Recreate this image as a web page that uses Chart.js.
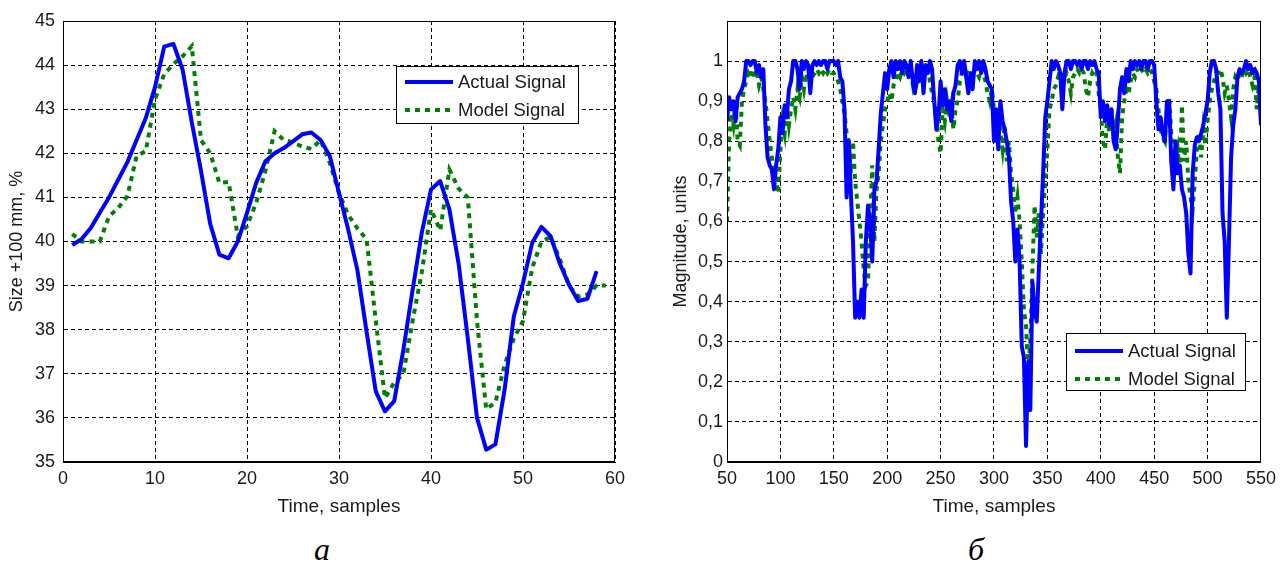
<!DOCTYPE html>
<html><head><meta charset="utf-8">
<script src="https://cdn.jsdelivr.net/npm/chart.js@4.4.0/dist/chart.umd.min.js"></script>
<style>
html,body{margin:0;padding:0;background:#fff;width:1282px;height:583px;overflow:hidden;}
.wrap{position:absolute;top:0;}
.cap{position:absolute;font-family:'Liberation Serif','Times New Roman',serif;font-style:italic;font-size:32px;line-height:1;color:#000;transform:translateX(-50%);}
</style></head><body>
<div class="wrap" style="left:0"><canvas id="c1" width="640" height="530"></canvas></div>
<div class="wrap" style="left:640px"><canvas id="c2" width="642" height="530"></canvas></div>
<div class="cap" style="left:322px;top:533px">а</div>
<div class="cap" style="left:976px;top:533px">б</div>
<script>
// ---------- Chart (а): Size +100 mm, % ----------
const timeA = [1,2,3,4,5,6,7,8,9,10,11,12,13,14,15,16,17,18,19,20,21,22,23,24,25,26,27,28,29,30,31,32,33,34,35,36,37,38,39,40,41,42,43,44,45,46,47,48,49,50,51,52,53,54,55,56,57,58,59];
const actualA = [39.92,40.05,40.3,40.65,41.0,41.4,41.8,42.3,42.8,43.5,44.42,44.48,43.9,42.7,41.6,40.4,39.7,39.62,40.0,40.65,41.33,41.82,42.0,42.12,42.27,42.43,42.47,42.3,41.94,41.1,40.27,39.35,37.95,36.6,36.15,36.38,37.55,38.9,40.2,41.18,41.37,40.73,39.5,37.8,36.0,35.28,35.4,36.64,38.3,39.06,39.97,40.33,40.12,39.5,39.02,38.65,38.7,39.33];
const modelA = [40.17,40.0,40.0,40.0,40.57,40.76,41.03,41.94,42.05,43.22,43.8,44.02,44.2,44.43,42.3,42.0,41.33,41.35,40.12,40.35,40.88,41.6,42.5,42.3,42.25,42.15,42.1,42.3,41.78,41.1,40.6,40.3,40.05,38.2,36.45,36.8,37.0,38.2,39.3,40.73,40.25,41.63,41.2,41.0,38.2,36.2,36.35,37.2,37.8,38.2,39.4,40.0,40.1,39.6,39.0,38.75,38.8,39.0,39.0];
const xTicksA = [0,10,20,30,40,50,60];
const yTicksA = [35,36,37,38,39,40,41,42,43,44,45];

// ---------- Chart (б): Magnitude, units (samples 50..550, every 2nd sample) ----------
const startB = 50, stepB = 2;
const actualB = [
0.85,0.91,0.88,0.90,0.85,0.91,0.92,0.93,0.95,1.00,
1.00,0.99,1.00,1.00,0.97,0.99,0.96,0.98,0.84,0.76,
0.74,0.73,0.68,0.74,0.78,0.86,0.82,0.89,0.86,0.93,
0.95,1.00,1.00,0.98,0.93,1.00,0.98,1.00,0.99,0.92,
0.99,1.00,0.99,1.00,0.99,1.00,1.00,0.98,1.00,1.00,
1.00,0.99,1.00,0.96,0.95,0.88,0.66,0.80,0.67,0.55,
0.36,0.40,0.36,0.43,0.36,0.55,0.64,0.60,0.50,0.68,
0.70,0.78,0.87,0.92,0.97,0.93,0.98,1.00,0.96,1.00,
0.98,1.00,0.97,1.00,0.99,0.96,1.00,0.95,0.92,0.99,
0.95,1.00,0.92,0.99,0.97,1.00,0.98,0.90,0.83,0.86,
0.95,0.89,0.93,0.88,0.90,0.85,0.92,0.94,0.99,1.00,
0.97,1.00,0.96,0.92,0.97,0.93,1.00,0.98,1.00,0.97,
1.00,0.98,0.95,0.94,0.93,0.80,0.88,0.78,0.90,0.85,
0.83,0.80,0.76,0.65,0.60,0.50,0.58,0.50,0.29,0.26,
0.04,0.25,0.13,0.45,0.38,0.35,0.48,0.60,0.72,0.86,
0.90,0.95,1.00,0.98,1.00,0.99,0.97,0.88,0.97,1.00,
1.00,0.98,1.00,1.00,0.99,1.00,0.98,1.00,1.00,0.98,
1.00,0.99,1.00,0.98,0.97,0.86,0.90,0.85,0.89,0.84,
0.88,0.80,0.78,0.85,0.93,0.96,0.92,0.98,0.95,1.00,
0.98,1.00,0.99,1.00,0.98,1.00,1.00,0.98,1.00,1.00,
0.99,0.90,0.83,0.86,0.82,0.80,0.90,0.90,0.75,0.68,
0.80,0.72,0.74,0.68,0.66,0.62,0.52,0.47,0.72,0.79,
0.81,0.80,0.82,0.84,0.87,0.90,0.97,1.00,1.00,0.98,
0.92,0.88,0.62,0.55,0.36,0.55,0.76,0.84,0.88,0.96,
0.98,0.97,0.98,1.00,0.98,0.99,0.97,0.98,0.97,0.95,
0.84];
const modelB = [
0.60,0.80,0.87,0.84,0.89,0.80,0.79,0.90,0.93,0.95,
0.97,0.96,0.98,0.96,0.97,0.94,0.96,0.93,0.90,0.85,
0.80,0.76,0.72,0.70,0.67,0.78,0.85,0.82,0.89,0.84,
0.88,0.91,0.88,0.93,0.91,0.96,0.93,0.97,0.95,0.97,
0.96,0.97,0.98,0.97,0.98,0.97,0.98,0.97,0.98,0.97,
0.97,0.96,0.95,0.93,0.90,0.87,0.82,0.80,0.72,0.80,
0.70,0.65,0.60,0.55,0.48,0.44,0.45,0.60,0.74,0.55,
0.68,0.72,0.80,0.84,0.88,0.90,0.92,0.90,0.94,0.95,
0.97,0.96,0.98,0.97,0.98,0.96,0.97,0.94,0.97,0.95,
0.98,0.97,0.99,0.97,0.98,0.95,0.92,0.90,0.86,0.80,
0.77,0.88,0.85,0.90,0.86,0.89,0.83,0.88,0.90,0.95,
0.97,0.96,0.97,0.98,0.97,0.96,0.98,0.97,0.96,0.98,
0.97,0.95,0.92,0.90,0.93,0.88,0.85,0.87,0.82,0.78,
0.84,0.75,0.80,0.72,0.68,0.62,0.66,0.60,0.50,0.38,
0.34,0.22,0.30,0.48,0.64,0.56,0.62,0.52,0.62,0.70,
0.78,0.88,0.90,0.93,0.94,0.96,0.95,0.97,0.96,0.97,
0.95,0.92,0.96,0.97,0.98,0.97,0.98,0.97,0.93,0.91,
0.95,0.97,0.96,0.97,0.92,0.88,0.80,0.78,0.86,0.82,
0.88,0.81,0.84,0.76,0.72,0.86,0.90,0.93,0.92,0.95,
0.97,0.96,0.98,0.97,0.98,0.97,0.98,0.97,0.98,0.97,
0.95,0.93,0.88,0.83,0.81,0.80,0.88,0.91,0.82,0.78,
0.75,0.78,0.72,0.89,0.75,0.80,0.70,0.66,0.63,0.70,
0.78,0.82,0.76,0.83,0.79,0.85,0.90,0.93,0.95,0.97,
0.97,0.98,0.96,0.92,0.94,0.90,0.86,0.93,0.96,0.95,
0.97,0.96,0.98,0.97,0.98,0.96,0.94,0.96,0.88,0.94,
0.87];
const timeB = actualB.map((_, i) => startB + stepB * i);
const xTicksB = [50,100,150,200,250,300,350,400,450,500,550];
const yTicksB = [0,0.1,0.2,0.3,0.4,0.5,0.6,0.7,0.8,0.9,1.0];

const seriesNames = ['Actual Signal', 'Model Signal'];
const axisTitlesA = ['Time, samples', 'Size +100 mm, %'];
const axisTitlesB = ['Time, samples', 'Magnitude, units'];

const FONT = "'Liberation Sans', Arial, Helvetica, sans-serif";
const TXT = '#1a1a1a';
const BLUE = '#0000ff';
const GREEN = '#007f00';

const boxPlugin = {
  id: 'boxFrame',
  afterDatasetsDraw(chart) {
    const {ctx, chartArea: a} = chart;
    ctx.save();
    ctx.strokeStyle = '#000';
    ctx.lineWidth = 1;
    ctx.setLineDash([]);
    ctx.strokeRect(Math.round(a.left) + 0.5, Math.round(a.top) + 0.5, Math.round(a.right - a.left) - 1, Math.round(a.bottom - a.top) - 1);
    ctx.restore();
  }
};

const legendPlugin = {
  id: 'boxLegend',
  afterDraw(chart, args, o) {
    const {ctx, chartArea: a} = chart;
    const x = Math.round(a.right - o.right - o.w);
    const y = Math.round(o.fromBottom != null ? a.bottom - o.fromBottom - o.h : a.top + o.top);
    ctx.save();
    ctx.fillStyle = '#fff';
    ctx.fillRect(x, y, o.w, o.h);
    ctx.strokeStyle = '#000';
    ctx.lineWidth = 1;
    ctx.strokeRect(x + 0.5, y + 0.5, o.w, o.h);
    chart.data.datasets.forEach((ds, i) => {
      const ry = y + o.rows[i];
      ctx.beginPath();
      ctx.strokeStyle = ds.borderColor;
      ctx.lineWidth = ds.borderWidth;
      ctx.setLineDash(ds.borderDash || []);
      ctx.lineCap = 'butt';
      ctx.moveTo(x + 9, ry);
      ctx.lineTo(x + 57, ry);
      ctx.stroke();
      ctx.setLineDash([]);
      ctx.fillStyle = TXT;
      ctx.font = '18.5px ' + FONT;
      ctx.textBaseline = 'middle';
      ctx.textAlign = 'left';
      ctx.fillText(ds.label, x + 62, ry + 1);
    });
    ctx.restore();
  }
};

function makeChart(id, cfg) {
  const xs = cfg.xs;
  return new Chart(document.getElementById(id), {
    type: 'line',
    data: {
      datasets: [
        {label: seriesNames[0], data: cfg.actual.map((v, i) => ({x: xs[i], y: v})), borderColor: BLUE, borderWidth: 4, pointRadius: 0, tension: 0, fill: false, borderJoinStyle: 'round'},
        {label: seriesNames[1], data: cfg.model.map((v, i) => ({x: xs[i], y: v})), borderColor: GREEN, borderWidth: 4, borderDash: [5, 5], borderCapStyle: 'butt', pointRadius: 0, tension: 0, fill: false}
      ]
    },
    options: {
      responsive: false,
      devicePixelRatio: 1,
      animation: false,
      events: [],
      layout: {padding: {left: 0, right: cfg.padRight, top: 21, bottom: 0}},
      plugins: {legend: {display: false}, tooltip: {enabled: false}, boxLegend: cfg.legend},
      scales: {
        x: {
          type: 'linear', min: cfg.xTicks[0], max: cfg.xTicks[cfg.xTicks.length - 1],
          afterBuildTicks: s => { s.ticks = cfg.xTicks.map(v => ({value: v})); },
          afterFit: s => { s.height = 68; },
          grid: {color: '#000', lineWidth: 1, drawTicks: false},
          border: {display: true, color: '#000', width: 1, dash: [4, 3]},
          ticks: {color: TXT, font: {family: FONT, size: 18}, padding: 6, maxRotation: 0, autoSkip: false},
          title: {display: true, text: cfg.titles[0], color: TXT, font: {family: FONT, size: 19}, padding: {top: 0, bottom: 12}}
        },
        y: {
          type: 'linear', min: cfg.yMin, max: cfg.yMax,
          afterBuildTicks: s => { s.ticks = cfg.yTicks.map(v => ({value: v})); },
          afterFit: s => { s.width = cfg.yWidth; },
          grid: {color: '#000', lineWidth: 1, drawTicks: false},
          border: {display: true, color: '#000', width: 1, dash: [4, 3]},
          ticks: {color: TXT, font: {family: FONT, size: 18}, padding: cfg.yPad, autoSkip: false, callback: cfg.yFmt},
          title: {display: true, text: cfg.titles[1], color: TXT, font: {family: FONT, size: 18}, padding: {top: cfg.yTitlePad, bottom: 0}}
        }
      }
    },
    plugins: [boxPlugin, legendPlugin]
  });
}

makeChart('c1', {
  xs: timeA, actual: actualA, model: modelA, xTicks: xTicksA, yTicks: yTicksA,
  yMin: 35, yMax: 45, yWidth: 63, padRight: 25, yPad: 8, yTitlePad: 6,
  titles: axisTitlesA, yFmt: v => String(v),
  legend: {right: 37, top: 45, w: 182, h: 57, rows: [16, 44]}
});

makeChart('c2', {
  xs: timeB, actual: actualB, model: modelB, xTicks: xTicksB, yTicks: yTicksB,
  yMin: 0, yMax: 1.1, yWidth: 87, padRight: 17, yPad: 4, yTitlePad: 30,
  titles: axisTitlesB,
  yFmt: v => { const r = Math.round(v * 10) / 10; return r === 0 ? '0' : (r === 1 ? '1' : r.toFixed(1).replace('.', ',')); },
  legend: {right: 16, fromBottom: 72, w: 179, h: 57, rows: [18, 46]}
});
</script>
</body></html>
